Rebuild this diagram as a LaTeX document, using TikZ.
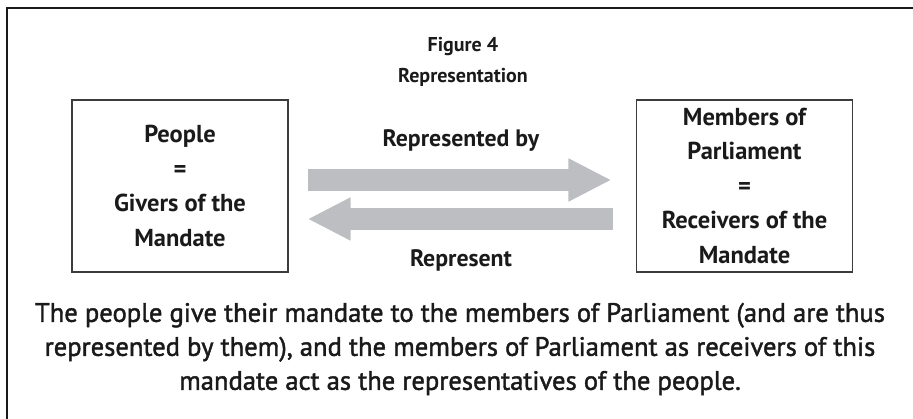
\documentclass[tikz,border=0pt]{standalone}
\usepackage{fontspec}
\setmainfont{PT Sans}
\newfontfamily\capfont{PT Sans}[FakeBold=1.6]
\usetikzlibrary{arrows.meta,calc}
\definecolor{flowgray}{HTML}{BDBEC1}
\definecolor{inkdark}{HTML}{1A1A1A}
\tikzset{
  mainbox/.style={draw=inkdark!85, line width=1.1pt, minimum width=216pt,
    minimum height=172pt, align=center, inner sep=0pt, text=inkdark,
    font=\bfseries\fontsize{24.5}{34.5}\selectfont},
  flow/.style={draw=flowgray, line width=22pt,
    -{Triangle[length=43pt,width=40pt]}},
  lbl/.style={text=inkdark, align=center, inner sep=0pt,
    font=\bfseries\fontsize{23.8}{23}\selectfont}
}
\begin{document}
\begin{tikzpicture}[x=1pt,y=-1pt]
\useasboundingbox (0,0) rectangle (913,419);
% outer frame (top and left rules)
\draw[line width=2pt, inkdark] (913,8) -- (7,8) -- (7,419);

\node[lbl, font=\bfseries\fontsize{20}{31}\selectfont] (title) at (463,62) {Figure 4\\Representation};

\node[mainbox] (people) at (180,186) {People\\=\\Givers of the\\Mandate};
\node[mainbox] (mps) at (744.5,186) {Members of\\Parliament\\=\\Receivers of the\\Mandate};

\draw[flow] ($(people.east)+(19,-6)$) -- ($(mps.west)+(-24.5,-6)$);
\draw[flow] ($(mps.west)+(-23,33)$) -- ($(people.east)+(19,33)$);

\node[lbl] (repby) at (461,140) {Represented by};
\node[lbl] (rep) at (461,260) {Represent};

\node[lbl, font=\capfont\fontsize{26.6}{34}\selectfont] (caption) at (460,349)
  {The people give their mandate to the members of Parliament (and are thus\\
   represented by them), and the members of Parliament as receivers of this\\
   mandate act as the representatives of the people.};
\end{tikzpicture}
\end{document}
